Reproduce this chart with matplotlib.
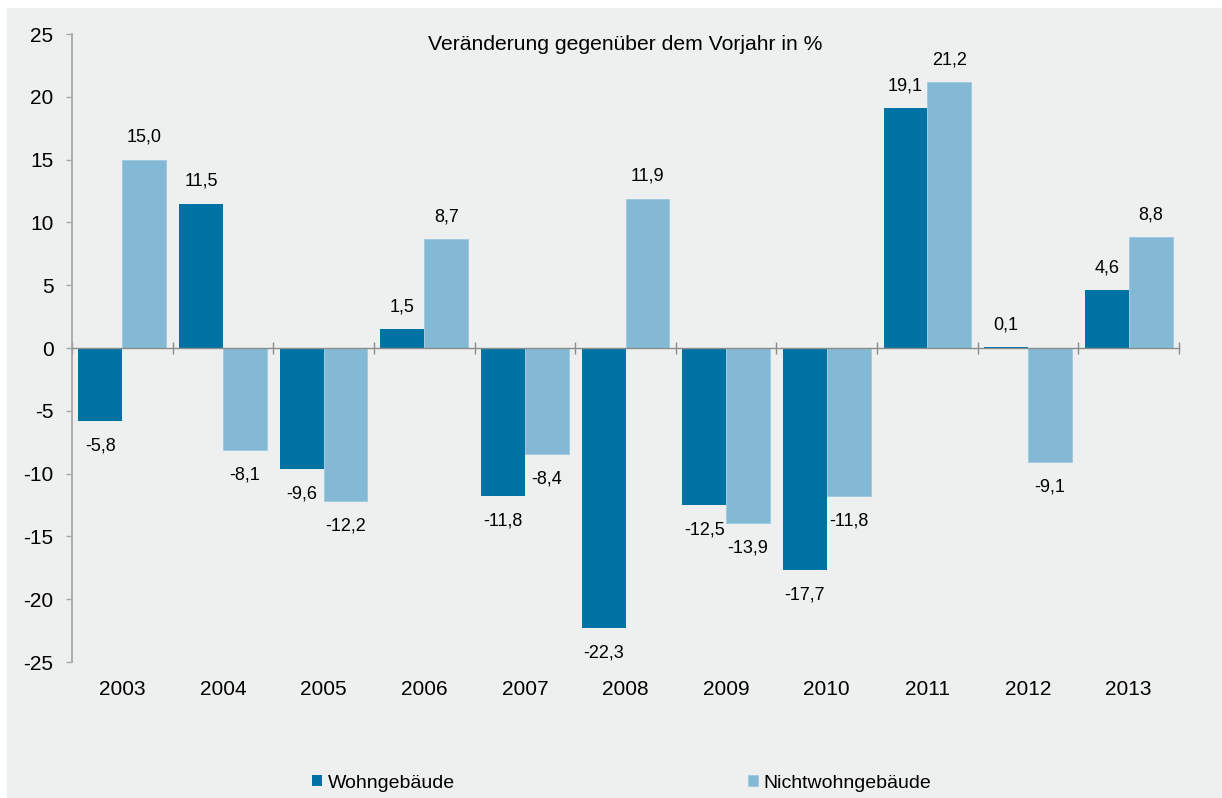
#!/usr/bin/env python3
"""Baugenehmigungen: Veränderung gegenüber dem Vorjahr (Wohn- / Nichtwohngebäude)."""

import matplotlib

matplotlib.use("Agg")
import matplotlib.pyplot as plt
from matplotlib.patches import Rectangle

years = ["2003", "2004", "2005", "2006", "2007", "2008", "2009", "2010", "2011", "2012", "2013"]
wohn = [-5.8, 11.5, -9.6, 1.5, -11.8, -22.3, -12.5, -17.7, 19.1, 0.1, 4.6]
nichtwohn = [15.0, -8.1, -12.2, 8.7, -8.4, 11.9, -13.9, -11.8, 21.2, -9.1, 8.8]
series_names = ["Wohngebäude", "Nichtwohngebäude"]
title = "Veränderung gegenüber dem Vorjahr in %"

DARK = "#0072A3"
LIGHT = "#83B9D5"
BG = "#EEEFEF"
GREY = "#8C8C8C"

plt.rcParams["font.family"] = ["Liberation Sans", "DejaVu Sans"]
plt.rcParams["axes.unicode_minus"] = False

W, H = 1222, 798
fig = plt.figure(figsize=(W / 100, H / 100), dpi=100, facecolor="white")
fig.patches.append(Rectangle((7 / W, 0), 1, 1 - 8 / H, transform=fig.transFigure,
                             facecolor=BG, edgecolor="none", zorder=-10))

ax = fig.add_axes([72 / W, 1 - 662 / H, (1179 - 72) / W, (662 - 34) / H])
ax.set_facecolor("none")

bw = 0.436
xs = [i + 0.5 for i in range(len(years))]
b1 = ax.bar([x - bw / 2 for x in xs], wohn, bw, color=DARK, label=series_names[0], zorder=2)
b2 = ax.bar([x + bw / 2 for x in xs], nichtwohn, bw, color=LIGHT, label=series_names[1],
            edgecolor="#9CC9DF", linewidth=0.6, zorder=2)

for bars, vals in ((b1, wohn), (b2, nichtwohn)):
    for rect, v in zip(bars, vals):
        cx = rect.get_x() + rect.get_width() / 2
        off = 16 if v >= 0 else -18
        ax.annotate(f"{v:.1f}".replace(".", ","), (cx, v), xytext=(0, off),
                    textcoords="offset points", ha="center", va="center", fontsize=13)

for x, y in zip(xs, years):
    ax.annotate(y, (x, 0), xycoords=("data", "axes fraction"), xytext=(0, -19.5),
                textcoords="offset points", ha="center", va="center", fontsize=15)

fig.text(625 / W, 1 - 45 / H, title, ha="center", va="center", fontsize=15.2)

ax.set_xlim(0, len(years))
ax.set_ylim(-25, 25)
ax.set_yticks(range(-25, 30, 5))
ax.set_xticks(range(len(years) + 1))
ax.set_xticklabels([])

for s in ("top", "right"):
    ax.spines[s].set_visible(False)
ax.spines["bottom"].set_position(("data", 0))
ax.spines["bottom"].set_color(GREY)
ax.spines["bottom"].set_linewidth(1.0)
ax.spines["bottom"].set_zorder(3)
ax.spines["left"].set_color("#A8A8A8")
ax.spines["left"].set_linewidth(1.3)

ax.tick_params(axis="x", direction="inout", length=8.6, width=1.0, color=GREY)
ax.tick_params(axis="y", direction="out", length=4.3, width=1.0, color="#A8A8A8",
               labelsize=15, pad=9)

fig.legend(handles=[b1, b2], loc="center left", bbox_to_anchor=(312 / W, 1 - 783 / H),
           ncol=2, frameon=False, fontsize=14, handlelength=0.49, handleheight=0.49,
           handletextpad=0.31, columnspacing=15.1, borderpad=0, borderaxespad=0)

fig.savefig("out.png", dpi=100, facecolor=fig.get_facecolor())
